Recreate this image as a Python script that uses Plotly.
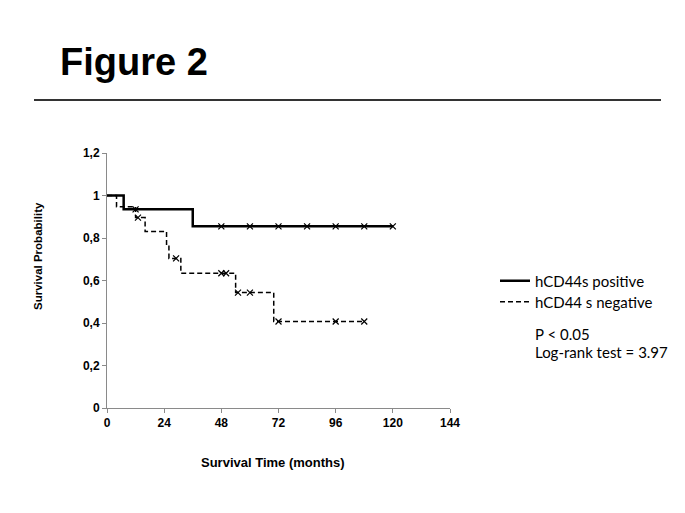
import plotly.graph_objects as go

# ---- data ----
pos_time = [0, 7, 36, 120]
pos_surv = [1.0, 0.935, 0.855, 0.855]
pos_cens_time = [12, 48, 60, 72, 84, 96, 108, 120]
pos_cens_surv = [0.935, 0.855, 0.855, 0.855, 0.855, 0.855, 0.855, 0.855]

neg_time = [0, 4, 12, 16, 25, 26, 31, 54, 70, 108]
neg_surv = [1.0, 0.947, 0.896, 0.831, 0.765, 0.704, 0.634, 0.543, 0.407, 0.407]
neg_cens_time = [13, 29, 48, 50, 55, 60, 72, 96, 108]
neg_cens_surv = [0.896, 0.704, 0.634, 0.634, 0.543, 0.543, 0.407, 0.407, 0.407]

x_ticks = [0, 24, 48, 72, 96, 120, 144]
y_ticks = [0, 0.2, 0.4, 0.6, 0.8, 1.0, 1.2]
y_tick_labels = ["0", "0,2", "0,4", "0,6", "0,8", "1", "1,2"]

series_names = ["hCD44s positive", "hCD44 s negative"]

W, H = 685, 513
L, R, T, B = 107, 235, 153, 105

ARIAL = "Liberation Sans, Arial, sans-serif"
CAL = "Lato, Carlito, Calibri, sans-serif"

pw = W - L - R
ph = H - T - B

def px_x(p):
    return (p - L) / pw

def px_y(p):
    return (H - B - p) / ph

fig = go.Figure()
fig.add_trace(go.Scatter(x=pos_time, y=pos_surv, mode="lines", line_shape="hv",
                         line=dict(color="black", width=2.5), name=series_names[0],
                         legend="legend"))
fig.add_trace(go.Scatter(x=neg_time, y=neg_surv, mode="lines", line_shape="hv",
                         line=dict(color="black", width=1.5, dash="5px,3px"), name=series_names[1],
                         legend="legend2"))
fig.add_trace(go.Scatter(x=pos_cens_time, y=pos_cens_surv, mode="markers", showlegend=False,
                         marker=dict(symbol="x-thin", size=6, line=dict(color="black", width=1.2))))
fig.add_trace(go.Scatter(x=neg_cens_time, y=neg_cens_surv, mode="markers", showlegend=False,
                         marker=dict(symbol="x-thin", size=6, line=dict(color="black", width=1.2))))

leg_common = dict(xanchor="left", yanchor="middle",
                  font=dict(family=CAL, size=15, color="black"),
                  bgcolor="rgba(0,0,0,0)", itemwidth=30, tracegroupgap=0,
                  borderwidth=0)

tick_font = dict(family=ARIAL, size=12, color="black", weight="bold")

fig.update_layout(
    width=W, height=H,
    margin=dict(l=L, r=R, t=T, b=B),
    paper_bgcolor="white", plot_bgcolor="white",
    showlegend=True,
    legend=dict(x=px_x(495), y=px_y(281), **leg_common),
    legend2=dict(x=px_x(495), y=px_y(302), **leg_common),
    xaxis=dict(range=[0, 144], tickvals=x_ticks, showgrid=False, zeroline=False,
               showline=True, linecolor="#8a8a8a", linewidth=1,
               ticks="outside", ticklen=4, tickcolor="#8a8a8a", tickfont=tick_font),
    yaxis=dict(range=[0, 1.2], tickvals=y_ticks, ticktext=y_tick_labels, showgrid=False,
               zeroline=False, showline=True, linecolor="#8a8a8a", linewidth=1,
               ticks="outside", ticklen=4, tickcolor="#8a8a8a", tickfont=tick_font),
)

fig.add_annotation(text="<b>Figure 2</b>", xref="paper", yref="paper",
                   x=px_x(58), y=px_y(62), xanchor="left", yanchor="middle",
                   showarrow=False, font=dict(family=ARIAL, size=38, color="black"))
fig.add_shape(type="line", xref="paper", yref="paper",
              x0=px_x(34), x1=px_x(661), y0=px_y(100), y1=px_y(100),
              line=dict(color="#333333", width=2))
fig.add_annotation(text="<b>Survival Probability</b>", xref="paper", yref="paper",
                   x=px_x(38), y=px_y(256), textangle=-90, showarrow=False,
                   xanchor="center", yanchor="middle",
                   font=dict(family=ARIAL, size=11.5, color="black"))
fig.add_annotation(text="<b>Survival Time (months)</b>", xref="paper", yref="paper",
                   x=px_x(273), y=px_y(462), showarrow=False,
                   xanchor="center", yanchor="middle",
                   font=dict(family=ARIAL, size=13, color="black"))
fig.add_annotation(text="P < 0.05", xref="paper", yref="paper",
                   x=px_x(533), y=px_y(334), xanchor="left", yanchor="middle", showarrow=False,
                   font=dict(family=CAL, size=15, color="black"))
fig.add_annotation(text="Log-rank test = 3.97", xref="paper", yref="paper",
                   x=px_x(533), y=px_y(352), xanchor="left", yanchor="middle", showarrow=False,
                   font=dict(family=CAL, size=15, color="black"))

fig.write_html("out.html", config={"displayModeBar": False},
               post_script="document.body.style.margin='0px';document.body.style.padding='0px';")
